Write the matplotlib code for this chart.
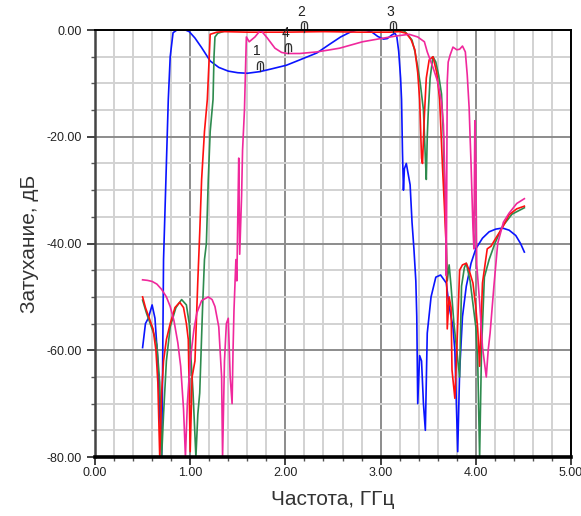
import matplotlib
matplotlib.use('Agg')
import matplotlib.pyplot as plt
from matplotlib.ticker import MultipleLocator, FormatStrFormatter

plt.rcParams['font.family'] = ['Liberation Sans', 'DejaVu Sans']

# Кривые затухания (частота, ГГц / дБ)
blue_f = [0.50, 0.53, 0.56, 0.60, 0.63, 0.66, 0.68, 0.70, 0.71, 0.72, 0.73, 0.75, 0.77, 0.79, 0.82,
          0.86, 0.95, 0.99, 1.05, 1.12, 1.21, 1.30, 1.40, 1.50, 1.60, 1.73, 1.85, 2.01, 2.15, 2.33,
          2.47, 2.58, 2.68, 2.75, 2.85, 2.91, 2.97, 3.03, 3.07, 3.12, 3.15, 3.17, 3.19, 3.21, 3.22,
          3.23, 3.24, 3.25, 3.27, 3.29, 3.31, 3.33, 3.35, 3.37, 3.38, 3.39, 3.41, 3.43, 3.45, 3.47,
          3.49, 3.53, 3.58, 3.63, 3.69, 3.72, 3.76, 3.78, 3.81, 3.83, 3.86, 3.90, 3.95, 4.00, 4.07,
          4.14, 4.21, 4.28, 4.35, 4.42, 4.47, 4.51]
blue_db = [-59.5, -55.0, -54.0, -51.5, -54.0, -62.0, -72.0, -80.0, -64.0, -43.0, -37.0, -25.0, -13.0, -5.0, -0.5,
           0.0, 0.0, -0.3, -1.5, -3.3, -5.8, -7.0, -7.7, -8.0, -8.1, -7.8, -7.3, -6.6, -5.6, -4.3,
           -2.6, -1.3, -0.4, 0.0, -0.1, -0.4, -1.2, -1.7, -1.6, -0.9, -0.6, -1.2, -4.0, -9.0, -13.0,
           -23.0, -30.0, -26.0, -25.0, -27.0, -29.0, -36.0, -41.0, -47.0, -53.7, -70.0, -61.0, -62.0, -70.0, -75.0,
           -56.8, -50.0, -46.3, -45.9, -47.4, -51.8, -55.6, -60.0, -79.0, -64.0, -53.7, -48.0, -43.7, -41.0, -39.0,
           -37.8, -37.3, -37.1, -37.5, -38.5, -40.0, -41.6]

red_f = [0.50, 0.53, 0.57, 0.61, 0.64, 0.66, 0.68, 0.70, 0.72, 0.75, 0.79, 0.84, 0.89, 0.93, 0.96,
         0.98, 1.00, 1.02, 1.05, 1.08, 1.10, 1.12, 1.15, 1.18, 1.20, 1.21, 1.28, 1.35, 1.60, 2.00,
         2.40, 2.80, 3.10, 3.20, 3.27, 3.32, 3.36, 3.39, 3.41, 3.43, 3.44, 3.46, 3.48, 3.51, 3.55,
         3.59, 3.62, 3.65, 3.67, 3.69, 3.70, 3.72, 3.74, 3.75, 3.78, 3.80, 3.83, 3.86, 3.90, 3.93,
         3.97, 4.00, 4.02, 4.04, 4.07, 4.12, 4.16, 4.21, 4.28, 4.35, 4.43, 4.51]
red_db = [-50.0, -52.0, -54.0, -56.0, -60.0, -66.0, -80.0, -68.0, -62.0, -58.0, -55.0, -52.0, -51.0, -52.0, -55.0,
          -58.0, -79.0, -65.0, -62.0, -47.0, -38.0, -28.0, -19.0, -13.0, -5.0, -0.8, -0.4, -0.3, -0.4, -0.4,
          -0.3, -0.4, -0.4, -0.3, -0.6, -1.8, -3.7, -8.0, -13.0, -24.0, -25.0, -16.0, -9.0, -5.6, -5.0,
          -8.0, -13.0, -25.6, -33.0, -41.0, -56.0, -50.0, -52.0, -63.7, -69.0, -60.0, -45.0, -44.0, -43.7, -45.0,
          -47.4, -52.0, -56.0, -63.0, -47.4, -41.0, -40.5, -39.0, -37.0, -34.6, -33.5, -33.0]

green_f = [0.50, 0.54, 0.58, 0.62, 0.65, 0.68, 0.70, 0.72, 0.75, 0.79, 0.85, 0.91, 0.96, 0.99, 1.01,
           1.03, 1.06, 1.08, 1.10, 1.13, 1.15, 1.17, 1.19, 1.21, 1.24, 1.25, 1.26, 1.29, 1.38, 1.80,
           2.30, 2.80, 3.20, 3.25, 3.30, 3.33, 3.36, 3.39, 3.42, 3.45, 3.47, 3.48, 3.49, 3.50, 3.52,
           3.55, 3.58, 3.61, 3.64, 3.66, 3.67, 3.69, 3.70, 3.72, 3.74, 3.77, 3.80, 3.83, 3.85, 3.88,
           3.90, 3.94, 4.00, 4.02, 4.04, 4.06, 4.09, 4.14, 4.20, 4.28, 4.38, 4.51]
green_db = [-50.6, -53.0, -55.0, -57.0, -59.0, -66.0, -80.0, -72.0, -62.0, -55.6, -52.0, -50.5, -51.5, -55.0, -62.0,
            -68.0, -80.0, -72.0, -68.0, -52.0, -43.0, -40.0, -28.0, -19.0, -13.0, -5.0, -1.3, -0.6, -0.1, 0.0,
            -0.1, 0.0, -0.1, -0.2, -1.2, -1.9, -4.0, -6.9, -10.5, -15.0, -24.0, -28.0, -20.0, -15.6, -9.0,
            -5.0, -6.0, -8.5, -12.0, -20.0, -28.7, -40.0, -47.0, -44.0, -48.0, -55.0, -60.0, -65.0, -48.0, -44.5,
            -43.7, -47.0, -55.6, -62.0, -80.0, -60.0, -46.3, -43.0, -40.0, -36.8, -34.5, -33.3]

pink_f = [0.50, 0.55, 0.60, 0.65, 0.70, 0.75, 0.79, 0.83, 0.87, 0.90, 0.93, 0.95, 0.97, 1.00, 1.04,
          1.07, 1.12, 1.19, 1.23, 1.26, 1.30, 1.33, 1.34, 1.36, 1.38, 1.40, 1.42, 1.44, 1.45, 1.46,
          1.48, 1.49, 1.50, 1.51, 1.52, 1.54, 1.55, 1.57, 1.58, 1.59, 1.62, 1.68, 1.74, 1.81, 1.89,
          1.96, 2.02, 2.15, 2.33, 2.47, 2.57, 2.81, 3.00, 3.17, 3.30, 3.39, 3.46, 3.49, 3.55, 3.60,
          3.64, 3.66, 3.68, 3.69, 3.70, 3.71, 3.73, 3.76, 3.80, 3.83, 3.86, 3.89, 3.91, 3.93, 3.94,
          3.95, 3.96, 3.97, 3.98, 3.99, 4.00, 4.01, 4.04, 4.07, 4.11, 4.13, 4.15, 4.19, 4.23, 4.29,
          4.35, 4.43, 4.51]
pink_db = [-46.8, -46.9, -47.1, -47.6, -48.6, -50.0, -51.8, -54.5, -58.6, -63.0, -71.0, -80.0, -70.0, -62.0, -56.0,
           -53.0, -50.7, -50.0, -50.5, -51.8, -55.6, -65.0, -80.0, -62.0, -55.0, -54.0, -65.0, -70.0, -60.0, -52.5,
           -43.0, -47.0, -35.0, -24.0, -42.0, -31.0, -22.5, -15.0, -8.0, -1.3, -2.2, -1.3, 0.0, -1.5, -3.4,
           -4.2, -4.4, -4.4, -4.1, -3.7, -3.4, -2.2, -1.6, -1.1, -0.8, -1.3, -2.2, -4.1, -7.0, -9.7,
           -13.5, -17.8, -31.0, -46.0, -9.7, -6.0, -4.7, -3.2, -3.7, -3.6, -3.0, -4.1, -8.4, -14.6, -20.0,
           -25.0, -31.0, -37.0, -41.0, -17.0, -25.0, -44.0, -51.0, -59.4, -65.0, -60.0, -56.8, -48.0, -40.0, -36.0,
           -34.3, -32.5, -31.6]

# маркеры: номер, частота, уровень
mark_names = ['1', '2', '3', '4']
mark_f = [1.73, 2.20, 3.13, 2.03]
mark_db = [-7.7, -0.3, -0.3, -4.3]

fig = plt.figure(figsize=(5.81, 5.16), dpi=100)
ax = fig.add_axes([0.1635, 0.1143, 0.8193, 0.8275])

ax.plot(blue_f, blue_db, color='#0a14ff', lw=1.2)
ax.plot(green_f, green_db, color='#2e8b4e', lw=1.2)
ax.plot(red_f, red_db, color='#ff1010', lw=1.2)
ax.plot(pink_f, pink_db, color='#f0289c', lw=1.2)

for name, f, db in zip(mark_names, mark_f, mark_db):
    # ножка маркера и значок
    ax.plot([f, f], [db, db + 1.6], color='#303030', lw=0.9, clip_on=False)
    ax.plot(f, db + 1.2, marker=r'$\cap$', color='#303030', ms=6.5, mew=0, clip_on=False)
    ax.text(f - 0.03, db + 2.4, name, fontsize=10, color='#202020', ha='center', va='bottom', clip_on=False)

ax.set_xlim(0, 5)
ax.set_ylim(-80, 0)
ax.xaxis.set_major_locator(MultipleLocator(1))
ax.xaxis.set_minor_locator(MultipleLocator(0.2))
ax.yaxis.set_major_locator(MultipleLocator(20))
ax.yaxis.set_minor_locator(MultipleLocator(5))
ax.xaxis.set_major_formatter(FormatStrFormatter('%.2f'))
ax.yaxis.set_major_formatter(FormatStrFormatter('%.2f'))

ax.grid(which='minor', color='#d2d2d2', lw=1.4)
ax.grid(which='major', color='#8c8c8c', lw=1.4)
ax.set_axisbelow(True)

ax.tick_params(which='major', length=6, width=1.2, labelsize=9, colors='#222222')
ax.tick_params(which='minor', length=3, width=1.0, color='#555555')
ax.tick_params(axis='x', pad=1)

for s in ['top', 'right']:
    ax.spines[s].set_color('black')
    ax.spines[s].set_linewidth(1.4)
ax.spines['left'].set_color('#444444')
ax.spines['left'].set_linewidth(1.8)
ax.spines['bottom'].set_color('black')
ax.spines['bottom'].set_linewidth(2.6)

ax.set_xlabel('Частота, ГГц', fontsize=15, color='#333333', labelpad=8)
ax.set_ylabel('Затухание, дБ', fontsize=15, color='#333333', labelpad=5)

fig.savefig('out.png', dpi=100)
